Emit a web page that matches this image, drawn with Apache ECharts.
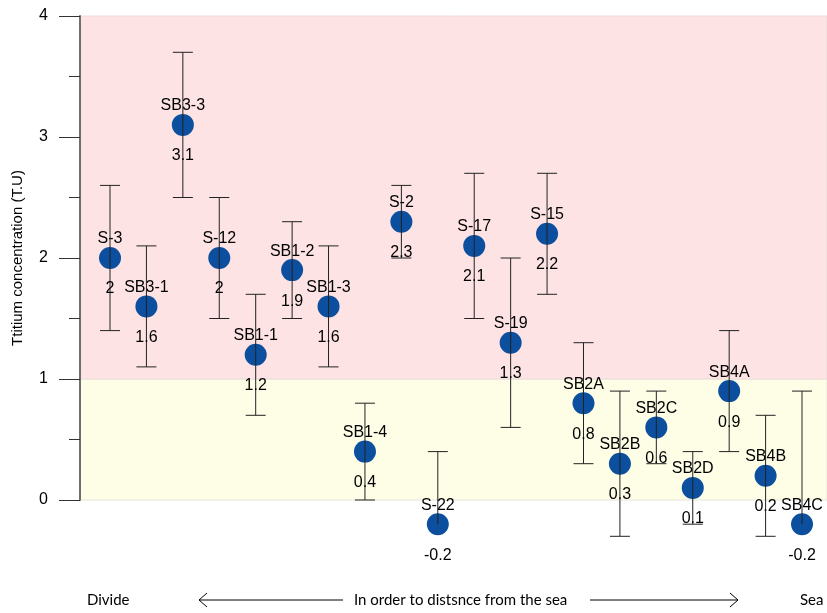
<!DOCTYPE html>
<html>
<head>
<meta charset="utf-8">
<script src="https://cdn.jsdelivr.net/npm/echarts@6/dist/echarts.min.js"></script>
<style>
  html, body { margin: 0; padding: 0; background: #fff; }
  #chart { width: 827px; height: 613px; }
</style>
</head>
<body>
<div id="chart"></div>
<script>
// wells, in order of distance from the sea
var names = ['S-3', 'SB3-1', 'SB3-3', 'S-12', 'SB1-1', 'SB1-2', 'SB1-3', 'SB1-4', 'S-2', 'S-22',
  'S-17', 'S-19', 'S-15', 'SB2A', 'SB2B', 'SB2C', 'SB2D', 'SB4A', 'SB4B', 'SB4C'];
var values = [2, 1.6, 3.1, 2, 1.2, 1.9, 1.6, 0.4, 2.3, -0.2,
  2.1, 1.3, 2.2, 0.8, 0.3, 0.6, 0.1, 0.9, 0.2, -0.2];
var lows = [1.4, 1.1, 2.5, 1.5, 0.7, 1.5, 1.1, 0, 2.0, -0.2,
  1.5, 0.6, 1.7, 0.3, -0.3, 0.3, -0.2, 0.4, -0.3, -0.2];
var highs = [2.6, 2.1, 3.7, 2.5, 1.7, 2.3, 2.1, 0.8, 2.6, 0.4,
  2.7, 2.0, 2.7, 1.3, 0.9, 0.9, 0.4, 1.4, 0.7, 0.9];
var yTicks = [0, 1, 2, 3, 4];

var chart = echarts.init(document.getElementById('chart'));

var pts = values.map(function (v, i) { return [i, v]; });
var bars = values.map(function (v, i) { return [i, lows[i], highs[i], v]; });

var font = 'Liberation Sans, Arial, sans-serif';
var noteFont = 'Lato, sans-serif';

function renderErr(params, api) {
  var i = api.value(0);
  var top = api.coord([i, api.value(2)]);
  var bot = api.coord([i, api.value(1)]);
  var mid = api.coord([i, api.value(3)]);
  var st = { stroke: '#222', lineWidth: 1 };
  var kids = [
    { type: 'line', shape: { x1: top[0], y1: top[1], x2: bot[0], y2: bot[1] }, style: st },
    { type: 'line', shape: { x1: top[0] - 10, y1: top[1], x2: top[0] + 10, y2: top[1] }, style: st }
  ];
  // no lower cap when the bar stops at the point itself
  if (api.value(1) < api.value(3)) {
    kids.push({ type: 'line', shape: { x1: bot[0] - 10, y1: bot[1], x2: bot[0] + 10, y2: bot[1] }, style: st });
  }
  // value printed under the dot
  kids.push({
    type: 'text',
    x: mid[0], y: mid[1] + 31,
    style: { text: String(api.value(3)), fill: '#000', font: '16px ' + font, textAlign: 'center', textVerticalAlign: 'middle' }
  });
  return { type: 'group', children: kids };
}

var option = {
  backgroundColor: '#ffffff',
  animation: false,
  grid: { left: 80, right: 0, top: 16, bottom: 113, outerBoundsMode: 'none', containLabel: false },
  xAxis: {
    type: 'value',
    min: -0.824,
    max: 19.686,
    show: false
  },
  yAxis: {
    type: 'value',
    z: 10,
    min: yTicks[0],
    max: yTicks[yTicks.length - 1],
    interval: 1,
    name: 'Ttitium concentration (T.U)',
    nameLocation: 'middle',
    nameGap: 55,
    nameTextStyle: { fontSize: 15, color: '#000', fontFamily: font },
    axisLine: { show: true, onZero: false, lineStyle: { color: '#6e6e6e', width: 2 } },
    axisTick: { show: true, length: 21, lineStyle: { color: '#333' } },
    minorTick: { show: true, splitNumber: 2, length: 11, lineStyle: { color: '#333' } },
    splitLine: { show: false },
    axisLabel: { fontSize: 16, color: '#000', fontFamily: font, margin: 32 }
  },
  series: [
    {
      type: 'scatter',
      data: pts,
      clip: false,
      symbolSize: 22,
      itemStyle: { color: '#0b4f9e', opacity: 1 },
      z: 2,
      label: {
        show: true,
        position: 'top',
        distance: 0,
        color: '#000',
        fontSize: 16,
        fontFamily: font,
        formatter: function (p) { return names[p.dataIndex]; }
      },
      markArea: {
        silent: true,
        data: [
          [{ yAxis: 0, itemStyle: { color: '#fefee6', borderColor: '#e6e6dc', borderWidth: 1 } }, { yAxis: 1 }],
          [{ yAxis: 1, itemStyle: { color: '#fde3e4', borderColor: '#ecdcdc', borderWidth: 1 } }, { yAxis: 4 }]
        ]
      }
    },
    {
      type: 'custom',
      data: bars,
      renderItem: renderErr,
      clip: false,
      z: 3,
      encode: { x: 0, y: [1, 2] }
    }
  ],
  graphic: [
    { type: 'text', x: 818, y: 35, style: { text: "Recharged after 1950's", fill: '#000', font: '17px ' + noteFont, textAlign: 'right', textVerticalAlign: 'middle' } },
    { type: 'text', x: 92, y: 487, style: { text: "Recharged before 1950's", fill: '#000', font: '17px ' + noteFont, textAlign: 'left', textVerticalAlign: 'middle' } },
    { type: 'text', x: 87, y: 600, style: { text: 'Divide', fill: '#000', font: '15px ' + noteFont, textAlign: 'left', textVerticalAlign: 'middle' } },
    { type: 'text', x: 354, y: 600, style: { text: 'In order to distsnce from the sea', fill: '#000', font: '15px ' + noteFont, textAlign: 'left', textVerticalAlign: 'middle' } },
    { type: 'text', x: 800, y: 600, style: { text: 'Sea', fill: '#000', font: '15px ' + noteFont, textAlign: 'left', textVerticalAlign: 'middle' } },
    { type: 'line', shape: { x1: 199, y1: 600, x2: 343, y2: 600 }, style: { stroke: '#000', lineWidth: 1 } },
    { type: 'polyline', shape: { points: [[207, 593], [199, 600], [207, 607]] }, style: { stroke: '#000', fill: null, lineWidth: 1 } },
    { type: 'line', shape: { x1: 590, y1: 600, x2: 738, y2: 600 }, style: { stroke: '#000', lineWidth: 1 } },
    { type: 'polyline', shape: { points: [[730, 593], [738, 600], [730, 607]] }, style: { stroke: '#000', fill: null, lineWidth: 1 } }
  ]
};

chart.setOption(option);
</script>
</body>
</html>
